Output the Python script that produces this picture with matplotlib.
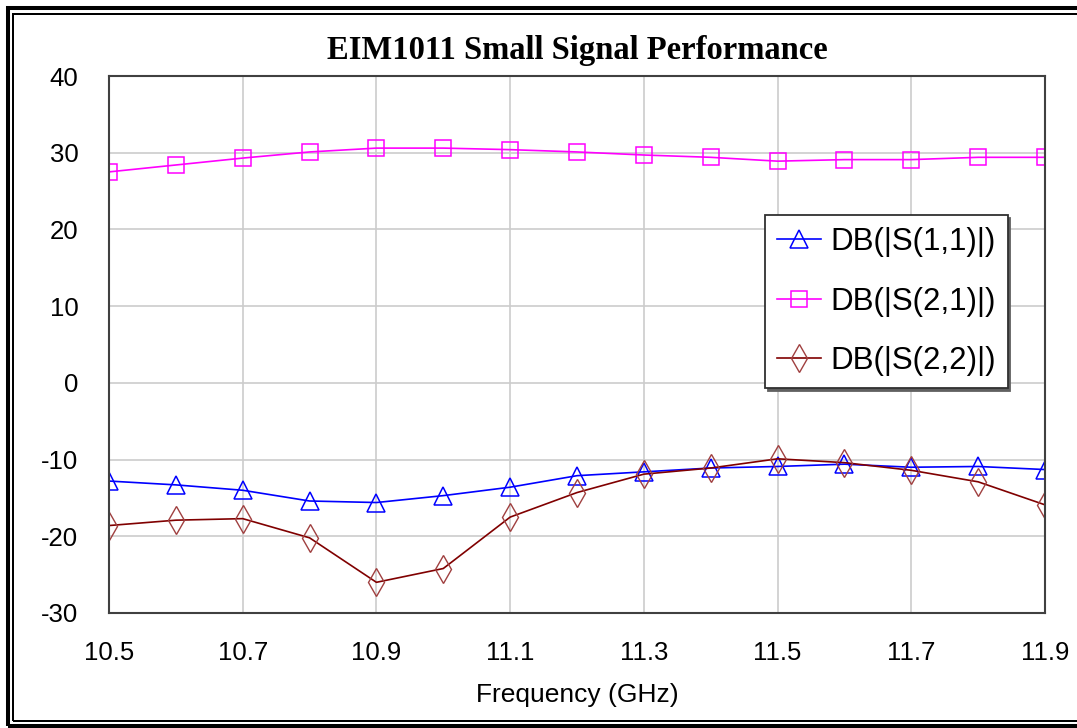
import matplotlib
matplotlib.use('Agg')
import matplotlib.pyplot as plt
from matplotlib.patches import Rectangle

# S-parameters of the EIM1011
freq = [10.5, 10.6, 10.7, 10.8, 10.9, 11.0, 11.1, 11.2,
        11.3, 11.4, 11.5, 11.6, 11.7, 11.8, 11.9]
s11 = [-12.8, -13.3, -14.0, -15.4, -15.6, -14.7, -13.6, -12.1,
       -11.6, -11.1, -10.9, -10.6, -11.0, -10.9, -11.3]
s21 = [27.5, 28.4, 29.3, 30.1, 30.6, 30.6, 30.4, 30.1,
       29.7, 29.4, 28.9, 29.1, 29.1, 29.4, 29.4]
s22 = [-18.6, -17.9, -17.7, -20.2, -26.0, -24.2, -17.5, -14.3,
       -11.9, -11.1, -9.9, -10.4, -11.4, -12.9, -15.9]

xticks = [10.5, 10.7, 10.9, 11.1, 11.3, 11.5, 11.7, 11.9]
yticks = [-30, -20, -10, 0, 10, 20, 30, 40]

W, H = 1077, 728
plt.rcParams['font.family'] = ['Liberation Sans', 'DejaVu Sans']
plt.rcParams['axes.unicode_minus'] = False

fig = plt.figure(figsize=(W / 100, H / 100), dpi=100)
ax = fig.add_axes([109 / W, 1 - 613 / H, (1045 - 109) / W, (613 - 76) / H])

ax.plot(freq, s11, color='#0000ff', lw=1.2, marker='^', ms=13,
        mfc='none', mec='#0000ff', mew=1.1, label='DB(|S(1,1)|)')
ax.plot(freq, s21, color='#ff00ff', lw=1.2, marker='s', ms=12,
        mfc='none', mec='#ff00ff', mew=1.1, label='DB(|S(2,1)|)')
ax.plot(freq, s22, color='#800000', lw=1.2, marker='d', ms=14,
        mfc='none', mec='#a04040', mew=1.0, label='DB(|S(2,2)|)')

ax.set_xlim(10.5, 11.9)
ax.set_ylim(-30, 40)
ax.set_xticks(xticks)
ax.set_xticklabels([f'{t:.1f}' for t in xticks])
ax.set_yticks(yticks)
ax.tick_params(length=0, labelsize=18.5, colors='black')
ax.tick_params(axis='y', pad=22)
ax.tick_params(axis='x', pad=20)
ax.grid(True, color='#cccccc', lw=1.2)
ax.set_axisbelow(True)
for sp in ax.spines.values():
    sp.set_color('#404040')
    sp.set_linewidth(1.5)

ax.set_xlabel('Frequency (GHz)', fontsize=19, labelpad=13)
fig.text(577 / W, 1 - 59 / H, 'EIM1011 Small Signal Performance',
         ha='center', va='baseline', fontsize=23.5, fontweight='bold',
         family=['Liberation Serif', 'DejaVu Serif'])

leg = ax.legend(loc='upper left', bbox_to_anchor=(765 / W, 1 - 215 / H),
                bbox_transform=fig.transFigure, borderaxespad=0,
                fontsize=22.5, fancybox=False, frameon=True,
                shadow={'color': '#606060', 'alpha': 1},
                handlelength=1.4, handletextpad=0.3, borderpad=0.38,
                labelspacing=0.95)
leg.get_frame().set_edgecolor('#303030')
leg.get_frame().set_linewidth(1.3)
leg.get_frame().set_alpha(1)

# double frame round the whole picture
fig.add_artist(Rectangle((8 / W, 1 - 726 / H), (1090 - 8) / W, (726 - 8) / H,
                         transform=fig.transFigure, fill=False,
                         lw=2.9, ec='black'))
fig.add_artist(Rectangle((13 / W, 1 - 721 / H), (1085 - 13) / W, (721 - 13.5) / H,
                         transform=fig.transFigure, fill=False,
                         lw=1.44, ec='black'))

fig.savefig('out.png', dpi=100)
